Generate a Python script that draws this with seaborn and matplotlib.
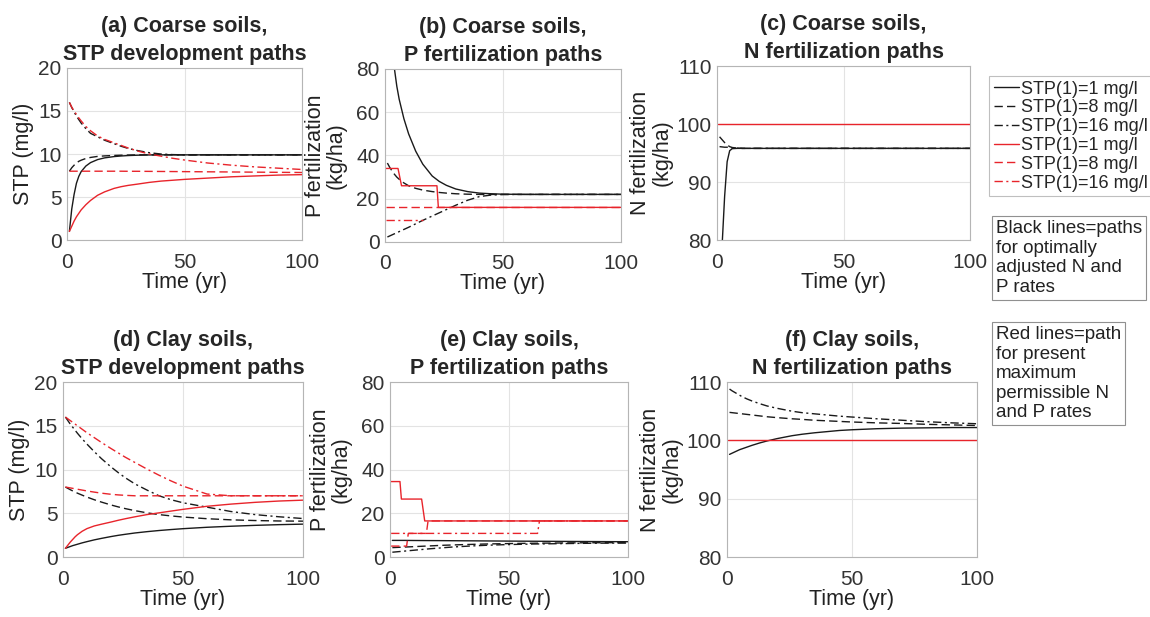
import matplotlib
matplotlib.use("Agg")
import matplotlib.pyplot as plt
import seaborn as sns
from matplotlib.lines import Line2D

# ---------------- data ----------------
TG = [1, 2, 3, 4, 5, 6, 8, 10, 13, 16, 20, 23, 26, 30, 35, 40, 45, 50, 60, 70, 80, 90, 100]

# (a) coarse soils, STP (mg/l)
A_BLK_1 = [1.0, 3.6, 5.3, 6.6, 7.4, 7.95, 8.6, 9.0, 9.35, 9.55, 9.7, 9.77, 9.82, 9.86, 9.89, 9.9, 9.9, 9.9, 9.9, 9.9, 9.9, 9.9, 9.9]
A_BLK_8 = [8.0, 8.4, 8.7, 8.95, 9.15, 9.28, 9.48, 9.6, 9.72, 9.78, 9.83, 9.86, 9.88, 9.9, 9.9, 9.9, 9.9, 9.9, 9.9, 9.9, 9.9, 9.9, 9.9]
A_BLK_16 = [16.0, 15.4, 14.9, 14.4, 14.0, 13.6, 12.95, 12.4, 12.0, 11.6, 11.2, 10.9, 10.65, 10.4, 10.15, 10.0, 9.93, 9.9, 9.9, 9.9, 9.9, 9.9, 9.9]
A_RED_1 = [1.0, 1.6, 2.2, 2.7, 3.1, 3.5, 4.1, 4.6, 5.2, 5.6, 6.0, 6.2, 6.35, 6.5, 6.7, 6.85, 6.95, 7.05, 7.2, 7.35, 7.45, 7.55, 7.6]
A_RED_8 = [8.0, 8.0, 8.0, 8.0, 8.0, 8.0, 8.0, 8.0, 8.0, 8.0, 8.0, 8.0, 7.99, 7.99, 7.98, 7.97, 7.96, 7.95, 7.93, 7.91, 7.89, 7.87, 7.85]
A_RED_16 = [16.0, 15.45, 15.0, 14.6, 14.2, 13.85, 13.2, 12.7, 12.1, 11.7, 11.3, 11.0, 10.7, 10.35, 10.0, 9.75, 9.5, 9.3, 8.95, 8.7, 8.5, 8.35, 8.2]

# (b) coarse soils, P fertilization (kg/ha)
B_BLK_1 = [130, 100, 88, 80, 72, 66, 57, 50, 42, 36, 30.5, 28, 26.2, 24.5, 23.3, 22.6, 22.3, 22.1, 22.0, 22.0, 22.0, 22.0, 22.0]
B_BLK_8 = [36.5, 34.5, 32.8, 31.3, 30.0, 29.0, 27.3, 26.0, 24.8, 24.0, 23.3, 22.9, 22.6, 22.3, 22.1, 22.0, 22.0, 22.0, 22.0, 22.0, 22.0, 22.0, 22.0]
B_BLK_16 = [2.3, 2.8, 3.3, 3.8, 4.3, 4.8, 5.8, 6.8, 8.4, 10.0, 12.0, 13.5, 15.0, 17.0, 19.3, 21.0, 21.7, 21.95, 22.0, 22.0, 22.0, 22.0, 22.0]
B_RED_1_T = [0.5, 5.5, 7.0, 22.0, 22.6, 100]
B_RED_1 = [34, 34, 26, 26, 16, 16]
B_RED_8_T = [0.5, 100]
B_RED_8 = [16, 16]
B_RED_16_T = [0.5, 16]
B_RED_16 = [10, 10]

# (c) coarse soils, N fertilization (kg/ha)
C_BLK_1 = [55, 79, 87.5, 93.5, 95.4, 95.75, 95.8, 95.8, 95.8, 95.8, 95.8, 95.8, 95.8, 95.8, 95.8, 95.8, 95.8, 95.8, 95.8, 95.8, 95.8, 95.8, 95.8]
C_BLK_8 = [97.8, 97.3, 96.8, 96.4, 96.1, 95.95, 95.85, 95.8, 95.8, 95.8, 95.8, 95.8, 95.8, 95.8, 95.8, 95.8, 95.8, 95.8, 95.8, 95.8, 95.8, 95.8, 95.8]
C_BLK_16 = [96.1, 96.05, 96.0, 96.0, 95.95, 95.9, 95.85, 95.8, 95.8, 95.8, 95.8, 95.8, 95.8, 95.8, 95.8, 95.8, 95.8, 95.8, 95.8, 95.8, 95.8, 95.8, 95.8]
C_RED_T = [0.5, 100]
C_RED = [100, 100]

# (d) clay soils, STP (mg/l)
D_BLK_1 = [1.0, 1.1, 1.2, 1.3, 1.38, 1.46, 1.62, 1.76, 1.96, 2.13, 2.34, 2.48, 2.6, 2.75, 2.9, 3.03, 3.14, 3.24, 3.4, 3.52, 3.62, 3.7, 3.76]
D_BLK_8 = [8.0, 7.85, 7.7, 7.56, 7.43, 7.3, 7.07, 6.85, 6.55, 6.28, 5.95, 5.73, 5.53, 5.3, 5.05, 4.85, 4.7, 4.57, 4.38, 4.25, 4.17, 4.12, 4.1]
D_BLK_16 = [16.0, 15.6, 15.2, 14.85, 14.5, 14.15, 13.5, 12.9, 12.05, 11.25, 10.3, 9.65, 9.05, 8.35, 7.65, 7.0, 6.55, 6.2, 5.7, 5.2, 4.85, 4.6, 4.4]
D_RED_1 = [1.0, 1.35, 1.7, 2.0, 2.3, 2.55, 2.95, 3.25, 3.55, 3.75, 4.0, 4.2, 4.38, 4.6, 4.85, 5.05, 5.25, 5.45, 5.8, 6.05, 6.25, 6.4, 6.5]
D_RED_8 = [8.0, 7.95, 7.9, 7.85, 7.8, 7.75, 7.65, 7.55, 7.42, 7.3, 7.17, 7.1, 7.05, 7.0, 7.0, 7.0, 7.0, 7.0, 7.0, 7.0, 7.0, 7.0, 7.0]
D_RED_16 = [16.0, 15.8, 15.6, 15.4, 15.2, 15.0, 14.6, 14.2, 13.65, 13.1, 12.4, 11.9, 11.4, 10.8, 10.05, 9.35, 8.7, 8.1, 7.2, 7.0, 7.0, 7.0, 7.0]

# (e) clay soils, P fertilization (kg/ha)
E_BLK_1 = [7.6, 7.6, 7.6, 7.6, 7.6, 7.6, 7.58, 7.56, 7.54, 7.52, 7.5, 7.48, 7.46, 7.43, 7.4, 7.36, 7.32, 7.28, 7.22, 7.16, 7.1, 7.05, 7.0]
E_BLK_8 = [4.3, 4.35, 4.4, 4.45, 4.5, 4.55, 4.65, 4.75, 4.9, 5.05, 5.25, 5.4, 5.5, 5.65, 5.8, 5.95, 6.05, 6.15, 6.3, 6.4, 6.5, 6.55, 6.6]
E_BLK_16 = [2.2, 2.3, 2.4, 2.5, 2.6, 2.7, 2.9, 3.1, 3.4, 3.7, 4.05, 4.3, 4.55, 4.8, 5.1, 5.35, 5.55, 5.7, 5.95, 6.1, 6.25, 6.35, 6.4]
E_RED_1_T = [0.5, 4.2, 4.8, 13.3, 14.6, 100]
E_RED_1 = [34.5, 34.5, 26.5, 26.5, 16.5, 16.5]
E_RED_8_T = [0.5, 7.0, 7.7, 15.3, 16.0, 100]
E_RED_8 = [5, 5, 10.8, 10.8, 16.5, 16.5]
E_RED_16_T = [0.5, 62.0, 62.8, 100]
E_RED_16 = [10.8, 10.8, 16.5, 16.5]

# (f) clay soils, N fertilization (kg/ha)
F_BLK_1 = [97.6, 97.8, 98.0, 98.2, 98.4, 98.55, 98.85, 99.15, 99.55, 99.9, 100.3, 100.55, 100.8, 101.05, 101.3, 101.5, 101.7, 101.82, 102.0, 102.1, 102.15, 102.2, 102.2]
F_BLK_8 = [104.8, 104.75, 104.7, 104.65, 104.6, 104.55, 104.45, 104.35, 104.2, 104.05, 103.9, 103.8, 103.7, 103.6, 103.45, 103.35, 103.25, 103.15, 103.0, 102.9, 102.75, 102.65, 102.55]
F_BLK_16 = [108.8, 108.5, 108.25, 108.0, 107.75, 107.5, 107.1, 106.75, 106.3, 105.9, 105.5, 105.25, 105.0, 104.75, 104.55, 104.35, 104.15, 104.0, 103.7, 103.45, 103.2, 103.0, 102.85]
F_RED_T = [0.5, 100]
F_RED = [100, 100]

LEGEND_LABELS = ["STP(1)=1 mg/l", "STP(1)=8 mg/l", "STP(1)=16 mg/l",
                 "STP(1)=1 mg/l", "STP(1)=8 mg/l", "STP(1)=16 mg/l"]

TITLES = ["(a) Coarse soils,\nSTP development paths",
          "(b) Coarse soils,\nP fertilization paths",
          "(c) Coarse soils,\nN fertilization paths",
          "(d) Clay soils,\nSTP development paths",
          "(e) Clay soils,\nP fertilization paths",
          "(f) Clay soils,\nN fertilization paths"]
YLABELS = ["STP (mg/l)", "P fertilization\n(kg/ha)", "N fertilization\n(kg/ha)"]
YLIMS = [(0, 20), (0, 80), (80, 110)]
YTICKS = [[0, 5, 10, 15, 20], [0, 20, 40, 60, 80], [80, 90, 100, 110]]
XTICKS = [0, 50, 100]

NOTE_BLACK = "Black lines=paths\nfor optimally\nadjusted N and\nP rates"
NOTE_RED = "Red lines=path\nfor present\nmaximum\npermissible N\nand P rates"

# ---------------- style ----------------
sns.set_style("white")
plt.rcParams["font.family"] = ["Liberation Sans", "DejaVu Sans"]

BLACK = "#1a1a1a"
RED = "#e8242b"
LW = 1.0
DASH = (0, (6, 3))
DASHDOT = (0, (6, 2.5, 1.5, 2.5))
STYLES = ["-", DASH, DASHDOT]
LABELPADS = [3, 6.5, 3]

fig = plt.figure(figsize=(11.5, 6.17), dpi=100)

positions = [
    [0.0583, 0.611, 0.2043, 0.2788],
    [0.3348, 0.6078, 0.2052, 0.2804],
    [0.6235, 0.611, 0.2200, 0.2820],
    [0.0548, 0.0972, 0.2087, 0.2836],
    [0.3391, 0.0972, 0.2070, 0.2836],
    [0.6322, 0.0972, 0.2174, 0.2836],
]

panels = [
    [(TG, A_BLK_1, BLACK, 0), (TG, A_BLK_8, BLACK, 1), (TG, A_BLK_16, BLACK, 2),
     (TG, A_RED_1, RED, 0), (TG, A_RED_8, RED, 1), (TG, A_RED_16, RED, 2)],
    [(TG, B_BLK_1, BLACK, 0), (TG, B_BLK_8, BLACK, 1), (TG, B_BLK_16, BLACK, 2),
     (B_RED_1_T, B_RED_1, RED, 0), (B_RED_8_T, B_RED_8, RED, 1), (B_RED_16_T, B_RED_16, RED, 2)],
    [(TG, C_BLK_1, BLACK, 0), (TG, C_BLK_8, BLACK, 1), (TG, C_BLK_16, BLACK, 2),
     (C_RED_T, C_RED, RED, 0)],
    [(TG, D_BLK_1, BLACK, 0), (TG, D_BLK_8, BLACK, 1), (TG, D_BLK_16, BLACK, 2),
     (TG, D_RED_1, RED, 0), (TG, D_RED_8, RED, 1), (TG, D_RED_16, RED, 2)],
    [(TG, E_BLK_1, BLACK, 0), (TG, E_BLK_8, BLACK, 1), (TG, E_BLK_16, BLACK, 2),
     (E_RED_1_T, E_RED_1, RED, 0), (E_RED_8_T, E_RED_8, RED, 1), (E_RED_16_T, E_RED_16, RED, 2)],
    [(TG, F_BLK_1, BLACK, 0), (TG, F_BLK_8, BLACK, 1), (TG, F_BLK_16, BLACK, 2),
     (F_RED_T, F_RED, RED, 0)],
]

for i, (pos, series) in enumerate(zip(positions, panels)):
    ax = fig.add_axes(pos)
    for t, v, col, s in series:
        sns.lineplot(x=t, y=v, ax=ax, color=col, linestyle=STYLES[s],
                     linewidth=LW, estimator=None, sort=False)
    k = i % 3
    ax.set_xlim(0, 100)
    ax.set_ylim(*YLIMS[k])
    ax.set_xticks(XTICKS)
    ax.set_yticks(YTICKS[k])
    ax.grid(True, color="#e3e3e3", linewidth=0.8)
    ax.set_axisbelow(True)
    for sp in ax.spines.values():
        sp.set_color("#b5b5b5")
        sp.set_linewidth(0.8)
    ax.tick_params(axis="both", labelsize=15, colors="#333333", length=0)
    ax.tick_params(axis="x", pad=9)
    ax.tick_params(axis="y", pad=4)
    ax.set_title(TITLES[i], fontsize=15.5, fontweight="bold", pad=6, linespacing=1.4)
    ax.set_xlabel("Time (yr)", fontsize=15.5, color="#222222", labelpad=0)
    ax.set_ylabel(YLABELS[k], fontsize=15.5, color="#222222",
                  labelpad=LABELPADS[k], linespacing=1.0)

handles = [Line2D([], [], color=c, linestyle=STYLES[s], linewidth=LW)
           for c in (BLACK, RED) for s in range(3)]
leg = fig.legend(handles, LEGEND_LABELS, loc="upper left",
                 bbox_to_anchor=(989 / 1150, 1 - 76 / 617),
                 fontsize=13, frameon=True, fancybox=False,
                 handlelength=1.4, handletextpad=0.1, labelspacing=0.1,
                 borderpad=0.25, borderaxespad=0)
leg.get_frame().set_edgecolor("#b0b0b0")
leg.get_frame().set_linewidth(0.8)

for txt, ytop in ((NOTE_BLACK, 220), (NOTE_RED, 326)):
    fig.text(996 / 1150, 1 - ytop / 617, txt, fontsize=13.5, va="top", ha="left",
             color="#222222", linespacing=1.2,
             bbox=dict(boxstyle="square,pad=0.2", facecolor="white",
                       edgecolor="#909090", linewidth=0.8))

fig.savefig("out.png", dpi=100)
